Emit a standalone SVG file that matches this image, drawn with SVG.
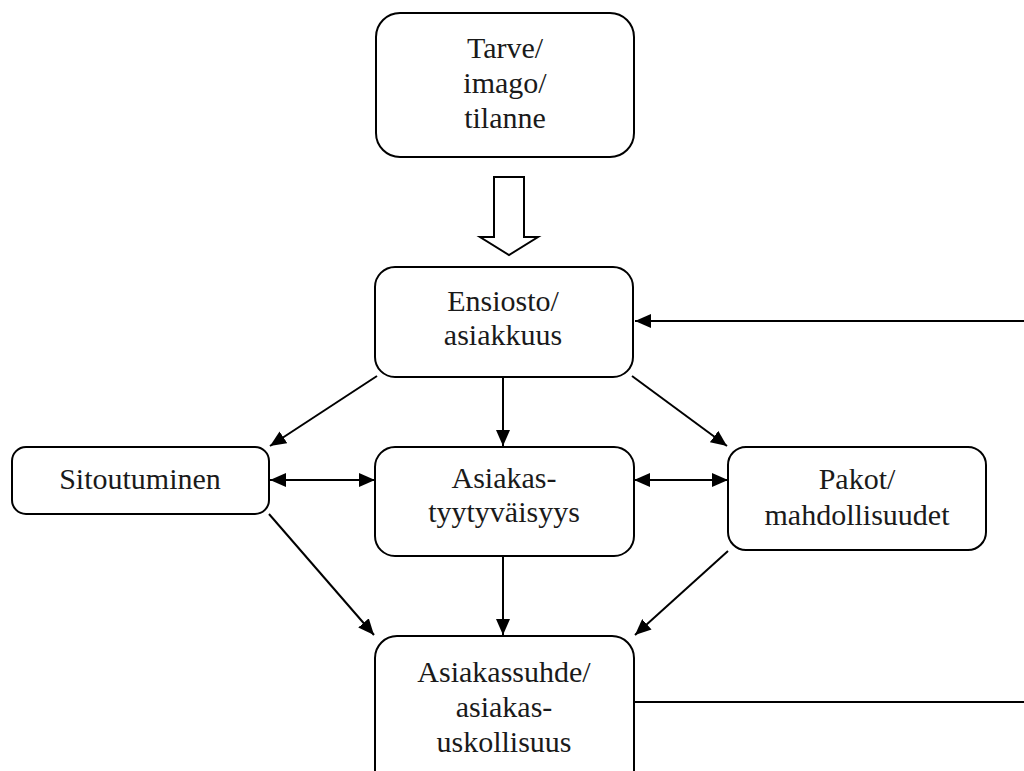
<svg xmlns="http://www.w3.org/2000/svg" width="1024" height="771" viewBox="0 0 1024 771">
<style>
.box{fill:#fff;stroke:#000;stroke-width:2}
.lbl{font-family:'Liberation Serif','Times New Roman','DejaVu Serif',serif;font-size:30px;fill:#1a1a1a;text-anchor:middle}
.ln{stroke:#000;stroke-width:2;fill:none}
</style>
<defs>
<marker id="ah" viewBox="0 0 16 14" refX="16" refY="7" markerWidth="16" markerHeight="14" markerUnits="userSpaceOnUse" orient="auto-start-reverse">
<path d="M0,0 L16,7 L0,14 Z" fill="#000"/>
</marker>
</defs>
<rect width="1024" height="771" fill="#fff"/>
<g id="connectors">
<path class="ln" d="M494,177 L524,177 L524,237 L538,237 L509,255 L480,237 L494,237 Z" stroke-width="1.5"/>
<line class="ln" x1="1024" y1="321" x2="635" y2="321" marker-end="url(#ah)"/>
<line class="ln" x1="503" y1="377" x2="503" y2="446" marker-end="url(#ah)"/>
<line class="ln" x1="377" y1="376" x2="270" y2="446" marker-end="url(#ah)"/>
<line class="ln" x1="632" y1="376" x2="727" y2="446" marker-end="url(#ah)"/>
<line class="ln" x1="270" y1="480" x2="375" y2="480" marker-start="url(#ah)" marker-end="url(#ah)"/>
<line class="ln" x1="634" y1="480" x2="728" y2="480" marker-start="url(#ah)" marker-end="url(#ah)"/>
<line class="ln" x1="269" y1="514" x2="374" y2="635" marker-end="url(#ah)"/>
<line class="ln" x1="728" y1="551" x2="635" y2="635" marker-end="url(#ah)"/>
<line class="ln" x1="503" y1="556" x2="503" y2="635" marker-end="url(#ah)"/>
<line class="ln" x1="634" y1="702" x2="1024" y2="702"/>
</g>
<g id="tarve">
<rect class="box" x="376" y="13" width="258" height="144" rx="24"/>
<text class="lbl" x="505" y="58">Tarve/</text>
<text class="lbl" x="505" y="93">imago/</text>
<text class="lbl" x="505" y="128">tilanne</text>
</g>
<g id="ensiosto">
<rect class="box" x="375" y="267" width="258" height="110" rx="20"/>
<text class="lbl" x="503" y="311">Ensiosto/</text>
<text class="lbl" x="503" y="345">asiakkuus</text>
</g>
<g id="sitoutuminen">
<rect class="box" x="12" y="447" width="257" height="67" rx="14"/>
<text class="lbl" x="140" y="489">Sitoutuminen</text>
</g>
<g id="tyytyvaisyys">
<rect class="box" x="375" y="447" width="259" height="109" rx="20"/>
<text class="lbl" x="504" y="488">Asiakas-</text>
<text class="lbl" x="504" y="522">tyytyväisyys</text>
</g>
<g id="pakot">
<rect class="box" x="728" y="447" width="258" height="103" rx="18"/>
<text class="lbl" x="857" y="489">Pakot/</text>
<text class="lbl" x="857" y="525">mahdollisuudet</text>
</g>
<g id="asiakassuhde">
<rect class="box" x="375" y="636" width="259" height="160" rx="22"/>
<text class="lbl" x="504" y="682">Asiakassuhde/</text>
<text class="lbl" x="504" y="717">asiakas-</text>
<text class="lbl" x="504" y="752">uskollisuus</text>
</g>
</svg>
